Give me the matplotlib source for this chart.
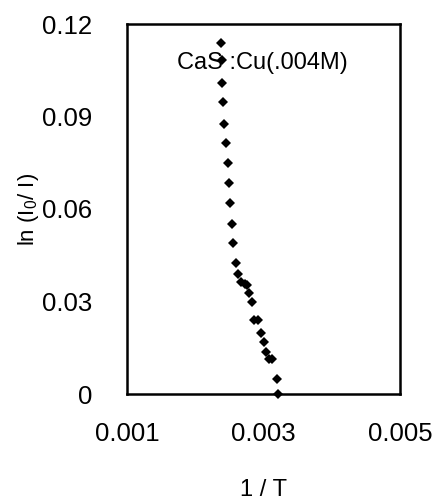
import matplotlib
matplotlib.use("Agg")
import matplotlib.pyplot as plt

# Glow curve decay data, CaS:Cu (0.004 M)
inv_T = [0.002382, 0.002397, 0.002397, 0.002412, 0.002426, 0.002456, 0.002485,
         0.002500, 0.002515, 0.002544, 0.002559, 0.002603, 0.002632, 0.002676,
         0.002721, 0.002750, 0.002779, 0.002824, 0.002853, 0.002912, 0.002956,
         0.003000, 0.003029, 0.003074, 0.003118, 0.003191, 0.003206]
ln_ratio = [0.1138, 0.1083, 0.1009, 0.0947, 0.0876, 0.0814, 0.0749,
            0.0684, 0.0619, 0.0551, 0.0490, 0.0425, 0.0389, 0.0363,
            0.0357, 0.0353, 0.0328, 0.0298, 0.0240, 0.0240, 0.0198,
            0.0169, 0.0136, 0.0114, 0.0114, 0.0049, 0.0000]

x_ticks = [0.001, 0.003, 0.005]
x_tick_labels = ["0.001", "0.003", "0.005"]
y_ticks = [0, 0.03, 0.06, 0.09, 0.12]
y_tick_labels = ["0", "0.03", "0.06", "0.09", "0.12"]

plt.rcParams["font.family"] = ["Liberation Sans", "DejaVu Sans"]
plt.rcParams["mathtext.fontset"] = "custom"
plt.rcParams["mathtext.rm"] = "Liberation Sans"
plt.rcParams["mathtext.it"] = "Liberation Sans"

fig = plt.figure(figsize=(4.35, 5.0), dpi=100)
ax = fig.add_axes([0.292, 0.212, 0.628, 0.740])

ax.plot(inv_T, ln_ratio, linestyle="none", marker="D", markersize=5.5,
        color="black", markeredgewidth=0, clip_on=False)

ax.set_xlim(0.001, 0.005)
ax.set_ylim(0, 0.12)
ax.set_xticks(x_ticks)
ax.set_xticklabels(x_tick_labels)
ax.set_yticks(y_ticks)
ax.set_yticklabels(y_tick_labels)
ax.tick_params(axis="both", length=0, labelsize=18.5)
ax.tick_params(axis="x", pad=20)
ax.tick_params(axis="y", pad=25)

for s in ax.spines.values():
    s.set_linewidth(1.8)
    s.set_color("black")

ax.set_xlabel("1 / T", fontsize=17, labelpad=24)
ax.set_ylabel(r"ln (I$_0$/ I)", fontsize=16)
ax.yaxis.set_label_coords(-0.315, 0.5)

ax.text(0.495, 0.895, "CaS :Cu(.004M)", transform=ax.transAxes,
        ha="center", va="center", fontsize=17)

fig.savefig("out.png", dpi=100)
